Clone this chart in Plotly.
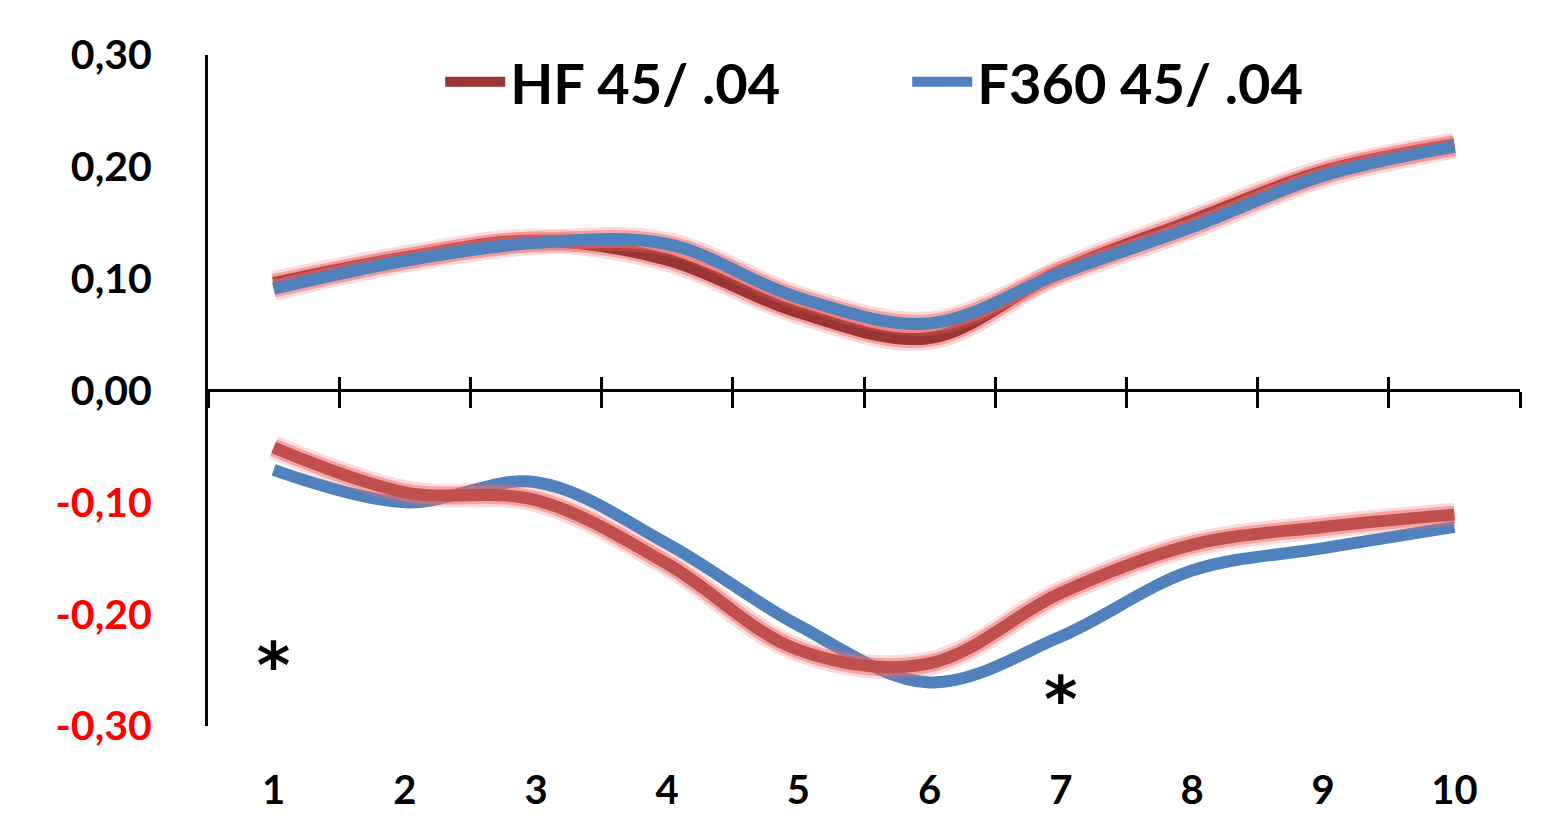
import plotly.graph_objects as go

# ---- data ----
categories = [1, 2, 3, 4, 5, 6, 7, 8, 9, 10]
hf_upper = [0.096, 0.119, 0.134, 0.117, 0.070, 0.047, 0.107, 0.152, 0.196, 0.220]
f360_upper = [0.091, 0.116, 0.132, 0.131, 0.083, 0.060, 0.105, 0.146, 0.192, 0.218]
hf_lower = [-0.051, -0.091, -0.098, -0.155, -0.232, -0.244, -0.181, -0.138, -0.122, -0.111]
f360_lower = [-0.071, -0.100, -0.082, -0.137, -0.210, -0.261, -0.220, -0.161, -0.141, -0.122]
series_names = ["HF 45/ .04", "F360 45/ .04"]
y_tick_vals = [0.30, 0.20, 0.10, 0.00, -0.10, -0.20, -0.30]
y_tick_text = ["0,30", "0,20", "0,10", "0,00", "-0,10", "-0,20", "-0,30"]
asterisk_x = [1, 7]
asterisk_y = [-0.252, -0.282]

Y_MIN, Y_MAX = -0.30, 0.30
X_MIN, X_MAX = 0.5, 10.5
boundaries = [X_MIN + i for i in range(int(X_MAX - X_MIN) + 1)]

DARK_RED = "#9A3533"
RED = "#C0504D"
BLUE = "#4F81BD"
GLOW = "rgba(240,110,110,0.50)"
GLOW2 = "rgba(240,110,110,0.25)"
FONT = "Lato, 'Open Sans', 'DejaVu Sans', sans-serif"

fig = go.Figure()

def glow(y):
    fig.add_trace(go.Scatter(x=categories, y=y, mode="lines", showlegend=False,
                             hoverinfo="skip",
                             line=dict(color=GLOW2, width=24, shape="spline")))
    fig.add_trace(go.Scatter(x=categories, y=y, mode="lines", showlegend=False,
                             hoverinfo="skip",
                             line=dict(color=GLOW, width=18, shape="spline")))

# upper group
glow(hf_upper)
fig.add_trace(go.Scatter(x=categories, y=hf_upper, mode="lines", name=series_names[0],
                         line=dict(color=DARK_RED, width=12, shape="spline")))
glow(f360_upper)
fig.add_trace(go.Scatter(x=categories, y=f360_upper, mode="lines", name=series_names[1],
                         line=dict(color=BLUE, width=12, shape="spline")))
# lower group
fig.add_trace(go.Scatter(x=categories, y=f360_lower, mode="lines", showlegend=False,
                         line=dict(color=BLUE, width=12, shape="spline")))
glow(hf_lower)
fig.add_trace(go.Scatter(x=categories, y=hf_lower, mode="lines", showlegend=False,
                         line=dict(color=RED, width=12, shape="spline")))

# asterisks
fig.add_trace(go.Scatter(x=asterisk_x, y=asterisk_y, mode="text", text=["*"] * len(asterisk_x),
                         showlegend=False, hoverinfo="skip",
                         textfont=dict(family="'DejaVu Sans', sans-serif", size=64,
                                       color="black", weight="bold")))

# dummy traces for the tick axes at y = 0
fig.add_trace(go.Scatter(x=[], y=[], xaxis="x2", showlegend=False))
fig.add_trace(go.Scatter(x=[], y=[], xaxis="x3", showlegend=False))

zero_pos = (0 - Y_MIN) / (Y_MAX - Y_MIN)

tick_text_colored = []
for v, t in zip(y_tick_vals, y_tick_text):
    if v < 0:
        tick_text_colored.append(f'<span style="color:#FF0000">{t}</span>')
    else:
        tick_text_colored.append(t)

fig.update_layout(
    width=1553, height=830,
    margin=dict(l=208, r=33, t=55, b=104),
    paper_bgcolor="white", plot_bgcolor="white",
    font=dict(family=FONT, color="black"),
    showlegend=True,
    legend=dict(orientation="h", x=0.177, xanchor="left", y=0.96, yanchor="middle",
                font=dict(family=FONT, size=56, color="black", weight="bold"),
                bgcolor="rgba(0,0,0,0)", entrywidth=392, entrywidthmode="pixels",
                itemwidth=60),
    xaxis=dict(range=[X_MIN, X_MAX], tickvals=categories, ticktext=[str(c) for c in categories],
               showgrid=False, zeroline=False, showline=False, ticks="",
               ticklabelstandoff=37,
               tickfont=dict(family=FONT, size=40, color="black", weight="bold")),
    xaxis2=dict(range=[X_MIN, X_MAX], overlaying="x", anchor="free", position=zero_pos,
                tickvals=boundaries, showticklabels=False, showgrid=False, zeroline=False,
                showline=False, ticks="outside", ticklen=16, tickwidth=3, tickcolor="black"),
    xaxis3=dict(range=[X_MIN, X_MAX], overlaying="x", anchor="free", position=zero_pos,
                tickvals=boundaries, showticklabels=False, showgrid=False, zeroline=False,
                showline=False, ticks="inside", ticklen=14, tickwidth=3, tickcolor="black"),
    yaxis=dict(range=[Y_MIN, Y_MAX], tickvals=y_tick_vals, ticktext=tick_text_colored,
               showgrid=False, zeroline=True, zerolinewidth=3, zerolinecolor="black",
               showline=True, linewidth=3, linecolor="black", ticks="",
               ticklabelstandoff=45,
               tickfont=dict(family=FONT, size=41, color="black", weight="bold")),
)

fig.write_html("out.html")
